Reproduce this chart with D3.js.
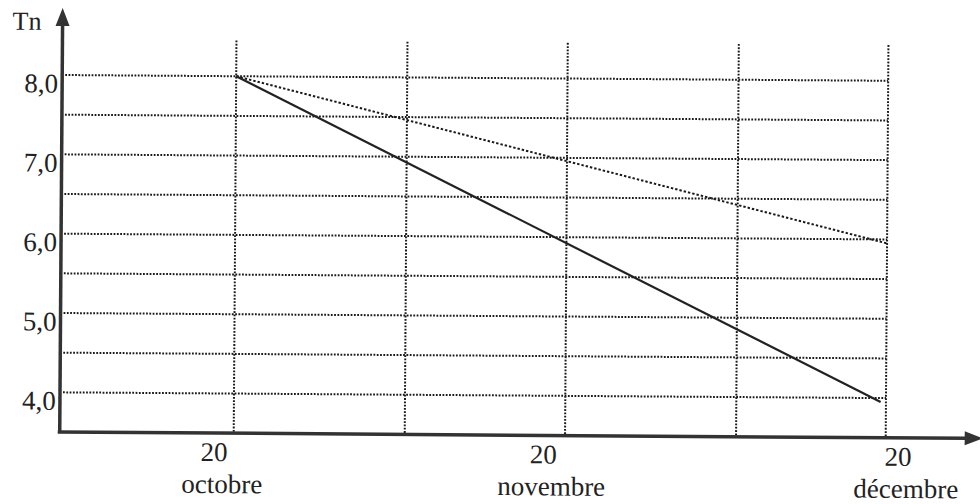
<!DOCTYPE html>
<html>
<head>
<meta charset="utf-8">
<script src="https://cdn.jsdelivr.net/npm/d3@7"></script>
<style>
  body { margin: 0; background: #fff; }
  svg { display: block; }
</style>
</head>
<body>
<div id="chart"></div>
<script>
// days counted from 20 octobre
const gridDays = [0, 16, 31, 47, 61];
const gridValues = [4.0, 4.5, 5.0, 5.5, 6.0, 6.5, 7.0, 7.5, 8.0];
const yTicks = [4.0, 5.0, 6.0, 7.0, 8.0];
const xTickDays = [0, 31, 61];
const xTickDayLabels = ["20", "20", "20"];
const xTickMonths = ["octobre", "novembre", "décembre"];
// the two Tn lines
const solidDays = [0, 60.5];
const solidValues = [8.0, 3.95];
const dottedDays = [0, 61];
const dottedValues = [8.0, 5.95];

const width = 980, height = 504;
const ink = "#222";
const serif = "'Liberation Serif', 'Times New Roman', serif";

const x = d3.scaleLinear().domain([0, 61]).range([235, 887]);
const y = d3.scaleLinear().domain([3.5, 8.0]).range([435, 78]);

const svg = d3.select("#chart")
    .append("svg")
    .attr("width", width)
    .attr("height", height);

// scanned page is slightly tilted
const g = svg.append("g")
    .attr("transform", "rotate(0.4, 490, 250)");

// horizontal grid
g.append("g")
    .selectAll("line")
    .data(gridValues)
    .join("line")
    .attr("x1", 64)
    .attr("x2", x(61))
    .attr("y1", d => y(d))
    .attr("y2", d => y(d))
    .attr("stroke", "#1a1a1a")
    .attr("stroke-width", 2)
    .attr("stroke-dasharray", "1.8,1.5");

// vertical grid
g.append("g")
    .selectAll("line")
    .data(gridDays)
    .join("line")
    .attr("x1", d => x(d))
    .attr("x2", d => x(d))
    .attr("y1", y(8.45))
    .attr("y2", y(3.5))
    .attr("stroke", "#1a1a1a")
    .attr("stroke-width", 2)
    .attr("stroke-dasharray", "1.8,1.5");

const line = d3.line()
    .x(d => x(d[0]))
    .y(d => y(d[1]));

g.append("path")
    .datum(d3.zip(dottedDays, dottedValues))
    .attr("d", line)
    .attr("fill", "none")
    .attr("stroke", "#1a1a1a")
    .attr("stroke-width", 2)
    .attr("stroke-dasharray", "2.4,2");

g.append("path")
    .datum(d3.zip(solidDays, solidValues))
    .attr("d", line)
    .attr("fill", "none")
    .attr("stroke", ink)
    .attr("stroke-width", 2.2);

// y axis with arrow
const axisX = 61;
g.append("line")
    .attr("x1", axisX).attr("x2", axisX)
    .attr("y1", y(3.5) + 1).attr("y2", 26)
    .attr("stroke", "#333")
    .attr("stroke-width", 3.5);
g.append("path")
    .attr("d", `M${axisX},11 L${axisX - 7},29 L${axisX + 7},29 Z`)
    .attr("fill", "#333");

// x axis with arrow
g.append("line")
    .attr("x1", axisX - 2).attr("x2", 968)
    .attr("y1", y(3.5)).attr("y2", y(3.5))
    .attr("stroke", "#333")
    .attr("stroke-width", 3.5);
g.append("path")
    .attr("d", `M984,${y(3.5)} L966,${y(3.5) - 7} L966,${y(3.5) + 7} Z`)
    .attr("fill", "#333");

// y tick labels
const yAxis = g.append("g")
    .attr("transform", `translate(${axisX - 4},0)`)
    .call(d3.axisLeft(y)
        .tickValues(yTicks)
        .tickSize(0)
        .tickPadding(0)
        .tickFormat(d => d.toFixed(1).replace(".", ",")));
yAxis.select(".domain").remove();
yAxis.selectAll("text")
    .attr("dy", 17)
    .attr("fill", ink)
    .style("font-family", serif)
    .style("font-size", "27px");

// x tick labels (day + month)
const xShift = [-20, -22, 12];
const xAxis = g.append("g")
    .attr("transform", `translate(0,${y(3.5)})`)
    .call(d3.axisBottom(x)
        .tickValues(xTickDays)
        .tickSize(0)
        .tickFormat(""));
xAxis.select(".domain").remove();
xAxis.selectAll(".tick text").each(function (d, i) {
    const t = d3.select(this)
        .attr("y", 0)
        .attr("dy", null)
        .attr("fill", ink)
        .style("font-family", serif)
        .style("font-size", "27px");
    t.append("tspan")
        .attr("x", xShift[i])
        .attr("y", 28)
        .text(xTickDayLabels[i]);
    t.append("tspan")
        .attr("x", xShift[i] + 8)
        .attr("y", 60)
        .text(xTickMonths[i]);
});

g.append("text")
    .attr("x", 11)
    .attr("y", 33)
    .attr("fill", ink)
    .style("font-family", serif)
    .style("font-size", "26px")
    .text("Tn");
</script>
</body>
</html>
